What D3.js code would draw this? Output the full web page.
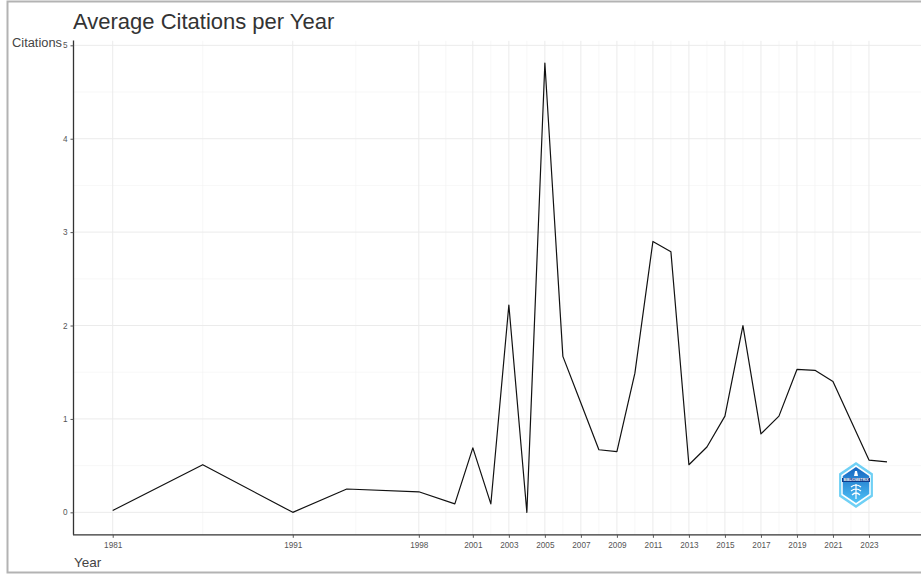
<!DOCTYPE html>
<html>
<head>
<meta charset="utf-8">
<script src="https://cdn.jsdelivr.net/npm/d3@7"></script>
<style>
  html, body { margin: 0; padding: 0; background: #fff; }
  svg { display: block; font-family: "Liberation Sans", Arial, sans-serif; }
</style>
</head>
<body>
<svg id="chart" width="921" height="576"></svg>
<script>
// ---- data ----
const years = [1981, 1986, 1991, 1994, 1998, 2000, 2001, 2002, 2003, 2004, 2005, 2006, 2007, 2008, 2009, 2010,
               2011, 2012, 2013, 2014, 2015, 2016, 2017, 2018, 2019, 2020, 2021, 2022, 2023, 2024];
const citations = [0.02, 0.51, 0.00, 0.25, 0.22, 0.09, 0.69, 0.09, 2.22, 0.00, 4.81, 1.67, 1.17, 0.67, 0.65, 1.49,
                   2.90, 2.79, 0.51, 0.70, 1.03, 2.00, 0.84, 1.03, 1.53, 1.52, 1.40, 0.98, 0.56, 0.54];
const xBreaks = years.filter((d, i) => i % 2 === 0);
const yBreaks = [0, 1, 2, 3, 4, 5];
const titleText = "Average Citations per Year";
const xTitle = "Year";
const yTitle = "Citations";

const svg = d3.select("#chart");
const W = 921, H = 576;

// panel geometry (ggplot-like 5% expansion)
const panel = { left: 74, right: 925.7, top: 40.6, bottom: 534.8 };
const xMin = d3.min(years), xMax = d3.max(years);
const xPad = (xMax - xMin) * 0.05;
const yMax = d3.max(citations), yMinV = 0;
const yPad = (yMax - yMinV) * 0.05;

const x = d3.scaleLinear().domain([xMin - xPad, xMax + xPad]).range([panel.left, panel.right]);
const y = d3.scaleLinear().domain([yMinV - yPad, yMax + yPad]).range([panel.bottom, panel.top]);

// outer frame
svg.append("rect").attr("x", 7.5).attr("y", 1.5).attr("width", W + 10).attr("height", 571)
  .attr("fill", "none").attr("stroke", "#b3b3b3").attr("stroke-width", 2);

const defs = svg.append("defs");
defs.append("clipPath").attr("id", "pclip")
  .append("rect").attr("x", panel.left).attr("y", panel.top)
  .attr("width", panel.right - panel.left).attr("height", panel.bottom - panel.top);

const g = svg.append("g").attr("clip-path", "url(#pclip)");

// minor grid
const xMinor = d3.pairs(xBreaks).map(([a, b]) => (a + b) / 2);
const yMinor = d3.pairs(yBreaks).map(([a, b]) => (a + b) / 2);
g.selectAll(".xminor").data(xMinor).join("line")
  .attr("x1", d => x(d)).attr("x2", d => x(d)).attr("y1", panel.top).attr("y2", panel.bottom)
  .attr("stroke", "#f2f2f2").attr("stroke-width", 0.6);
g.selectAll(".yminor").data(yMinor).join("line")
  .attr("y1", d => y(d)).attr("y2", d => y(d)).attr("x1", panel.left).attr("x2", panel.right)
  .attr("stroke", "#f2f2f2").attr("stroke-width", 0.6);
// major grid
g.selectAll(".xmajor").data(xBreaks).join("line")
  .attr("x1", d => x(d)).attr("x2", d => x(d)).attr("y1", panel.top).attr("y2", panel.bottom)
  .attr("stroke", "#ebebeb").attr("stroke-width", 1);
g.selectAll(".ymajor").data(yBreaks).join("line")
  .attr("y1", d => y(d)).attr("y2", d => y(d)).attr("x1", panel.left).attr("x2", panel.right)
  .attr("stroke", "#ebebeb").attr("stroke-width", 1);

// line
const data = years.map((yr, i) => ({ year: yr, value: citations[i] }));
g.append("path").datum(data)
  .attr("fill", "none").attr("stroke", "#111").attr("stroke-width", 1.2)
  .attr("stroke-linejoin", "round")
  .attr("d", d3.line().x(d => x(d.year)).y(d => y(d.value)));

// axes
const xAxis = d3.axisBottom(x).tickValues(xBreaks).tickFormat(d3.format("d")).tickSizeInner(3).tickSizeOuter(0).tickPadding(4);
const yAxis = d3.axisLeft(y).tickValues(yBreaks).tickFormat(d3.format("d")).tickSizeInner(3).tickSizeOuter(0).tickPadding(3);

const gx = svg.append("g").attr("transform", `translate(0,${panel.bottom})`).call(xAxis);
const gy = svg.append("g").attr("transform", `translate(${panel.left - 0.5},0)`).call(yAxis);
[gx, gy].forEach(a => {
  a.select(".domain").attr("stroke", "#333").attr("stroke-width", 1.3);
  a.selectAll(".tick line").attr("stroke", "#555");
  a.selectAll(".tick text").attr("fill", "#555").attr("font-size", 8.2).attr("font-family", "Liberation Sans, Arial, sans-serif");
});
gx.select(".domain").attr("d", `M${panel.left - 1},0H${W + 5}`);
gy.select(".domain").attr("d", `M0,${panel.top}V${panel.bottom}`);

// titles
svg.append("text").attr("x", 73).attr("y", 29).attr("font-size", 22).attr("fill", "#333").text(titleText);
svg.append("text").attr("x", 12).attr("y", 47).attr("font-size", 12.5).attr("fill", "#444")
  .attr("textLength", 50).attr("lengthAdjust", "spacingAndGlyphs").text(yTitle);
svg.append("text").attr("x", 74).attr("y", 567).attr("font-size", 13.5).attr("fill", "#444").text(xTitle);

// logo (hexagon badge)
const logo = svg.append("g").attr("transform", "translate(856,485)");
const grad = defs.append("linearGradient").attr("id", "lg").attr("x1", 0).attr("y1", 0).attr("x2", 0).attr("y2", 1);
grad.append("stop").attr("offset", "0%").attr("stop-color", "#1565c0");
grad.append("stop").attr("offset", "100%").attr("stop-color", "#4fc3f7");
const hex = r => d3.range(6).map(i => {
  const a = Math.PI / 3 * i - Math.PI / 2;
  return [r * 0.85 * Math.cos(a), r * Math.sin(a)];
});
logo.append("polygon").attr("points", hex(23).join(" ")).attr("fill", "#6fd0f5");
logo.append("polygon").attr("points", hex(20).join(" ")).attr("fill", "#fff");
logo.append("polygon").attr("points", hex(18).join(" ")).attr("fill", "url(#lg)");
logo.append("rect").attr("x", -14).attr("y", -7).attr("width", 28).attr("height", 4).attr("fill", "#0d3c8c");
logo.append("text").attr("x", 0).attr("y", -4).attr("text-anchor", "middle").attr("font-size", 3.5)
  .attr("font-weight", "bold").attr("fill", "#fff").text("BIBLIOMETRIX");
logo.append("path").attr("d", "M-1,-14 L1,-14 L2,-9 L-2,-9 Z").attr("fill", "#fff");
logo.append("path").attr("d", "M-5,2 Q0,-2 5,2 M-5,6 Q0,2 5,6 M-4,10 Q0,6 4,10 M0,-1 V14")
  .attr("stroke", "#fff").attr("stroke-width", 1.2).attr("fill", "none");
</script>
</body>
</html>
